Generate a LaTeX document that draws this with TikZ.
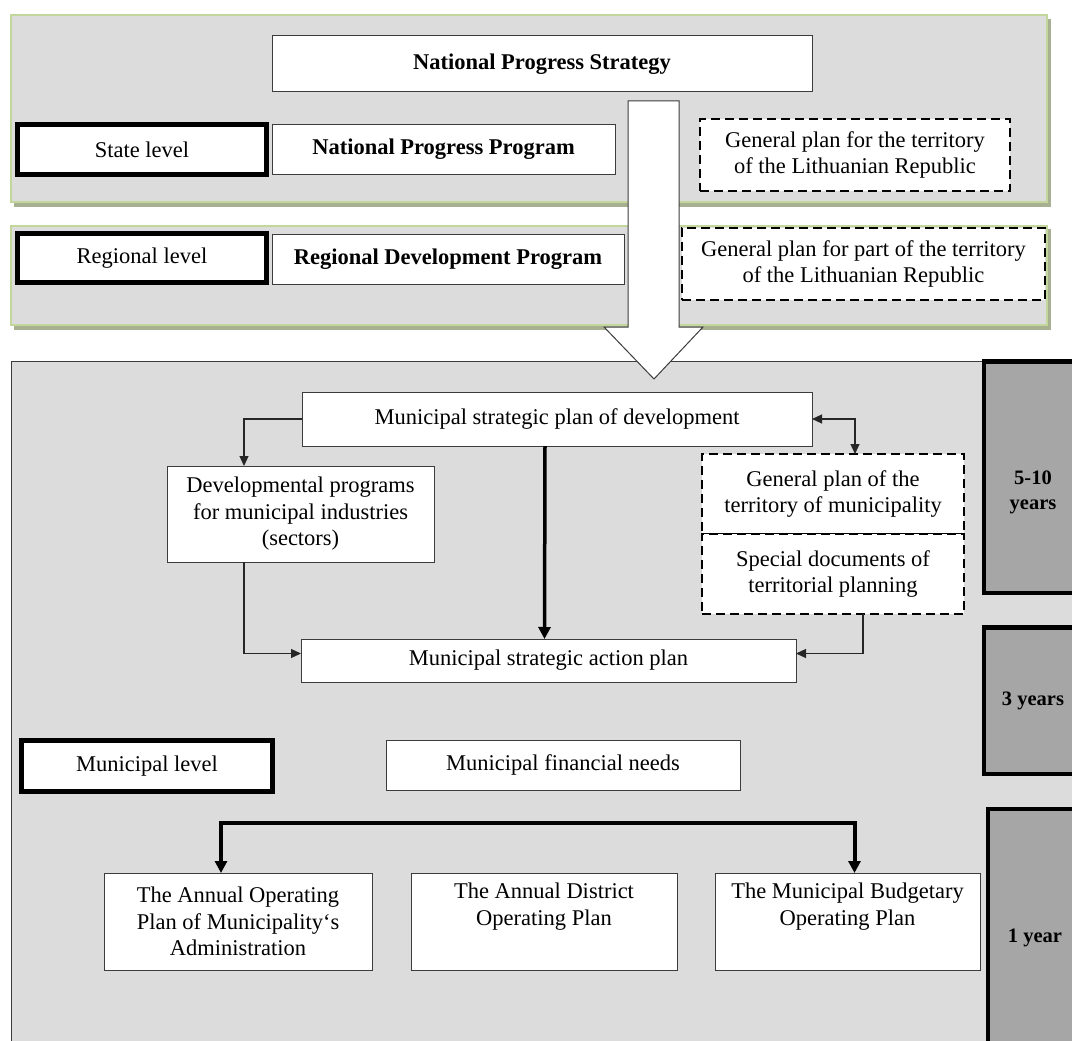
\documentclass[tikz,border=0pt]{standalone}
\usepackage{fontspec}
\setmainfont{Liberation Serif}
\usetikzlibrary{arrows.meta,positioning}
\definecolor{panelgray}{RGB}{220,220,220}
\definecolor{greenedge}{RGB}{195,214,155}
\definecolor{shadowgreen}{RGB}{168,176,146}
\definecolor{timegray}{RGB}{166,166,166}
\definecolor{edgegray}{RGB}{60,60,60}
\begin{document}
\begin{tikzpicture}[
  x=1pt, y=-1pt,
  font=\fontsize{22.5}{26.5}\selectfont,
  box/.style={draw=edgegray, line width=1pt, fill=white, align=center, inner sep=0pt, outer sep=0pt},
  boldbox/.style={box, font=\fontsize{22.5}{26.5}\selectfont\bfseries},
  levelbox/.style={draw=black, line width=5pt, fill=white, align=center, inner sep=0pt, outer sep=0pt},
  planbox/.style={draw=black, line width=1.8pt, dash pattern=on 9pt off 5pt, fill=white, align=center, inner sep=0pt, outer sep=0pt},
  timebox/.style={draw=black, line width=4.5pt, fill=timegray, align=center, inner sep=0pt, outer sep=0pt, font=\fontsize{20.5}{25}\selectfont\bfseries},
  panel/.style={fill=panelgray, draw=greenedge, line width=2.5pt},
  arrow/.style={-{Triangle[length=10pt, width=9pt]}, line width=1.2pt, draw=black!85},
  dblarrow/.style={{Triangle[length=10pt, width=9pt]}-{Triangle[length=10pt, width=9pt]}, line width=1.2pt, draw=black!85},
  thickarrow/.style={-{Triangle[length=12pt, width=12pt]}, line width=3.5pt},
  thickdbl/.style={{Triangle[length=12pt, width=12pt]}-{Triangle[length=12pt, width=12pt]}, line width=4pt}
]
\useasboundingbox (0,0) rectangle (1072,1041);
\clip (0,0) rectangle (1072,1041);
\fill[white] (0,0) rectangle (1072,1041);

\fill[shadowgreen] (14,19) rectangle (1051,207);
\draw[panel] (11,15) rectangle (1047,202);
\fill[shadowgreen] (14,229) rectangle (1051,330);
\draw[panel] (11,226) rectangle (1047,325);
\draw[draw=edgegray, fill=panelgray, line width=1pt] (11,361) rectangle (1100,1100);

\draw[fill=white, draw=edgegray, line width=1pt] (628,101) -- (679,101) -- (679,327) -- (703,327) -- (654,379) -- (604,327) -- (628,327) -- cycle;

\node[boldbox, minimum width=540, minimum height=56] (nps) at (542,64) {\raisebox{4pt}{National Progress Strategy}};
\node[levelbox, minimum width=249, minimum height=50] (state) at (142,149.5) {State level};
\node[boldbox, minimum width=343, minimum height=50] (npp) at (443.5,149) {National Progress Program};
\node[planbox, minimum width=310, minimum height=72] (gpt) at (855,155) {General plan for the territory\\of the Lithuanian Republic};

\node[levelbox, minimum width=249, minimum height=49] (region) at (142,258) {Regional level};
\node[boldbox, minimum width=352, minimum height=50] (rdp) at (448,259) {Regional Development Program};
\node[planbox, minimum width=363, minimum height=72] (gpp) at (863.5,264) {General plan for part of the territory\\of the Lithuanian Republic};

\node[box, minimum width=510, minimum height=54] (mspd) at (557,419) {Municipal strategic plan of development};
\node[box, minimum width=267, minimum height=96] (dev) at (300.5,514) {Developmental programs\\for municipal industries\\(sectors)};
\node[planbox, minimum width=262, minimum height=80] (gpm) at (833,494) {General plan of the\\territory of municipality};
\node[planbox, minimum width=262, minimum height=80] (spd) at (833,574) {Special documents of\\territorial planning};
\node[box, minimum width=495, minimum height=43] (msap) at (548.5,660.5) {Municipal strategic action plan};

\node[levelbox, minimum width=251, minimum height=51] (muni) at (147,766) {Municipal level};
\node[box, minimum width=354, minimum height=50] (fin) at (563,765) {Municipal financial needs};

\node[box, minimum width=268, minimum height=97] (aop) at (238,921.5) {The Annual Operating\\Plan of Municipality‘s\\Administration};
\node[box, minimum width=266, minimum height=97] (adop) at (544,921.5) {The Annual District\\Operating Plan\\\strut};
\node[box, minimum width=265, minimum height=97] (mbop) at (847.5,921.5) {The Municipal Budgetary\\Operating Plan\\\strut};

\node[timebox, minimum width=98, minimum height=231.5] (long) at (1033,477) {\rule{0pt}{44pt}5-10\\years};
\node[timebox, minimum width=98, minimum height=146.5] (mid) at (1033,700.5) {3 years};
\node[timebox, minimum width=94, minimum height=251] (short) at (1035,934.5) {\rule{0pt}{20pt}1 year};

\draw[arrow] (mspd.west) -| ([xshift=-56.5]dev.north);
\draw[arrow] ([xshift=-56.5]dev.south) |- ([yshift=7]msap.west);
\draw[thickarrow] ([xshift=-12]mspd.south) -- ([xshift=-4]msap.north);
\draw[dblarrow] (mspd.east) -| ([xshift=22]gpm.north);
\draw[arrow] ([xshift=30]spd.south) |- ([yshift=7]msap.east);
\coordinate (bus) at (540,823);
\draw[thickdbl] ([xshift=-17]aop.north) |- (bus) -| ([xshift=7]mbop.north);
\end{tikzpicture}
\end{document}
